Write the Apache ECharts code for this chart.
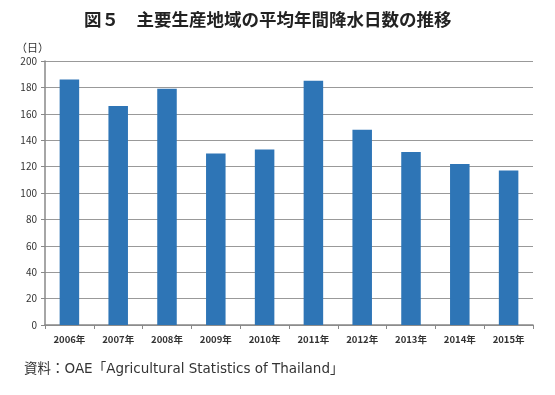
<!DOCTYPE html>
<html><head><meta charset="utf-8">
<script src="https://cdn.jsdelivr.net/npm/echarts@6/dist/echarts.min.js"></script>
<style>html,body{margin:0;padding:0;background:#fff}#c{width:555px;height:395px}</style>
</head><body><div id="c"></div>
<script>
const categories = ['2006年','2007年','2008年','2009年','2010年','2011年','2012年','2013年','2014年','2015年'];
const rainyDays = [186,166,179,130,133,185,148,131,122,117];
const yTicks = {min:0, max:200, interval:20};

const font = '"Noto Sans CJK JP", "Noto Sans", sans-serif';
const chart = echarts.init(document.getElementById('c'), null, {renderer:'canvas'});
chart.setOption({
  animation:false,
  backgroundColor:'#fff',
  title:[{
    text:'図５　主要生産地域の平均年間降水日数の推移',
    left:79, top:6,
    textStyle:{fontFamily:font, fontSize:17.5, fontWeight:'bold', color:'#222'}
  },{
    text:'資料：OAE「Agricultural Statistics of Thailand」',
    left:19, top:358,
    textStyle:{fontFamily:'"DejaVu Sans", "Noto Sans CJK JP", sans-serif', fontSize:13.5, fontWeight:'normal', color:'#333'}
  },{
    text:'（日）',
    left:11, top:37,
    textStyle:{fontFamily:font, fontSize:11, fontWeight:'normal', color:'#333'}
  }],
  grid:{left:45, right:22, top:61, bottom:70, containLabel:false},
  xAxis:{
    type:'category', data:categories,
    axisLine:{lineStyle:{color:'#888', width:1.5}},
    axisTick:{show:true, alignWithLabel:false, length:4, lineStyle:{color:'#888'}},
    axisLabel:{fontFamily:font, fontSize:9.5, fontWeight:'bold', color:'#333', margin:10}
  },
  yAxis:{
    type:'value', min:yTicks.min, max:yTicks.max, interval:yTicks.interval,
    axisLine:{show:true, lineStyle:{color:'#888', width:1.5}},
    axisTick:{show:true, length:4, lineStyle:{color:'#888'}},
    axisLabel:{fontFamily:font, fontSize:10, color:'#333', margin:8},
    splitLine:{lineStyle:{color:'#999', width:1}}
  },
  series:[{
    type:'bar', data:rainyDays, barWidth:'40%',
    itemStyle:{color:'#2E75B6'}
  }]
});
</script></body></html>
